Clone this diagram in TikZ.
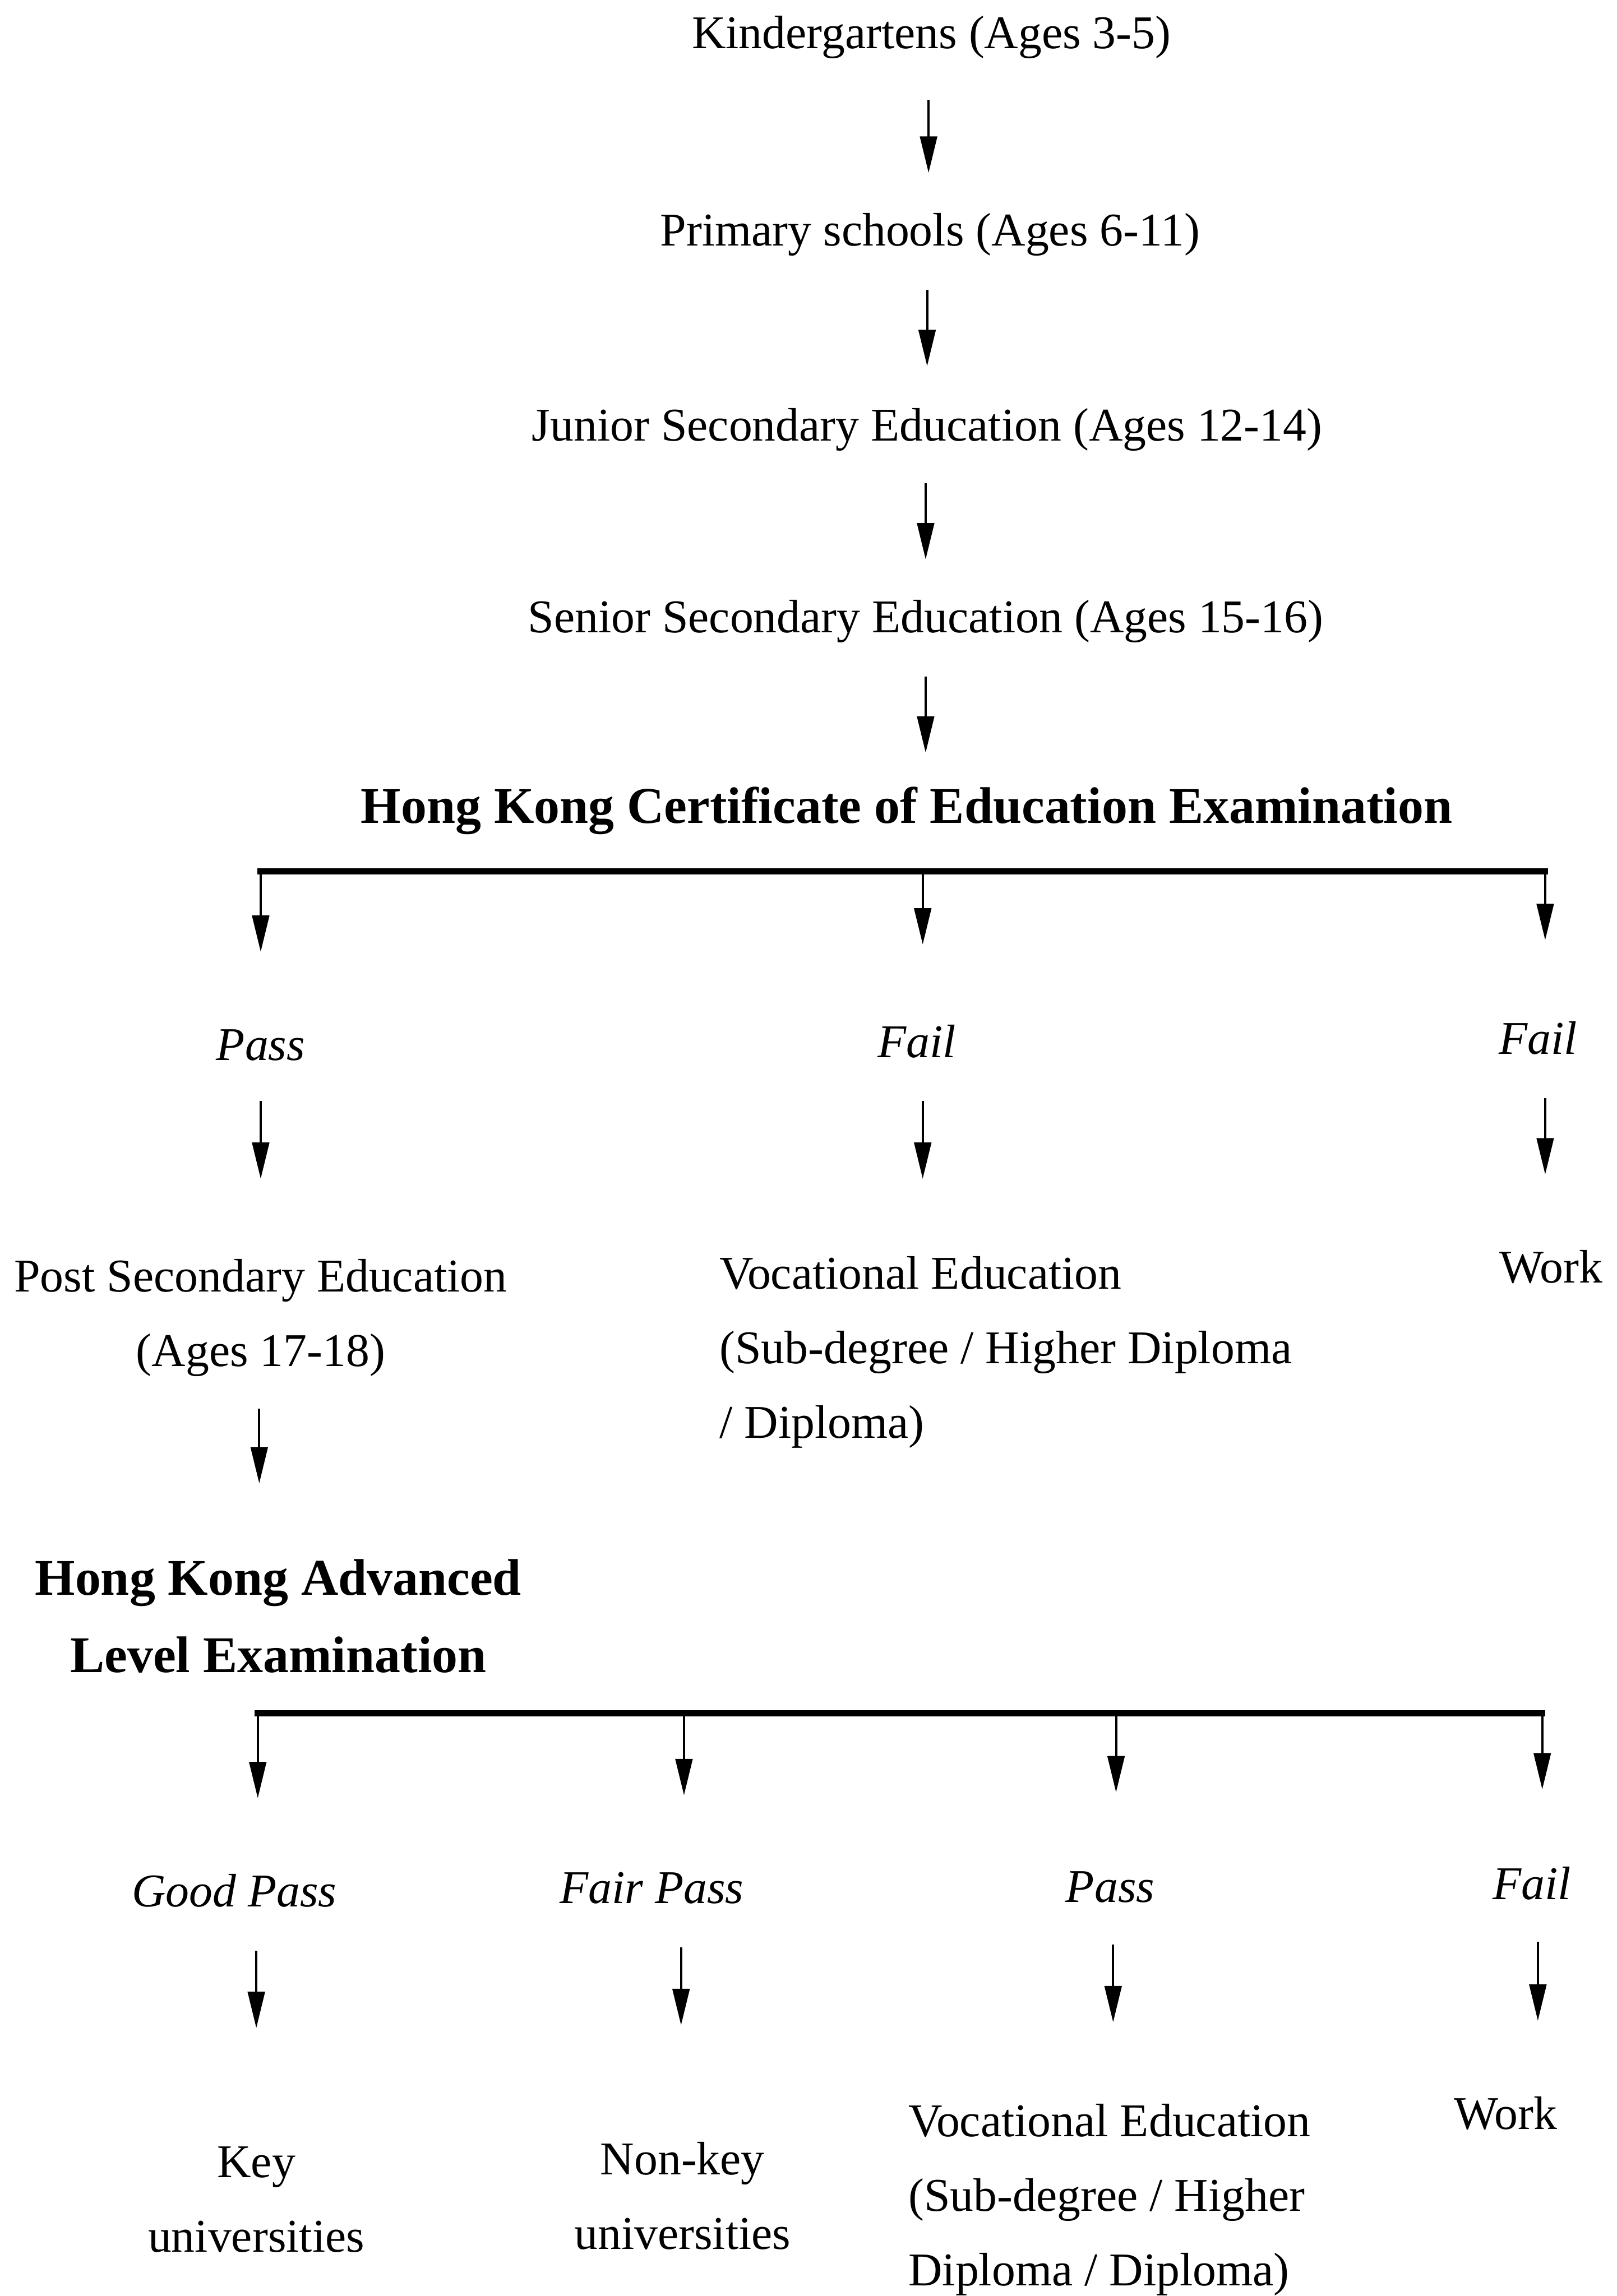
\documentclass[tikz,border=0pt]{standalone}
\usepackage{fontspec}
\setmainfont{Liberation Serif}
\usetikzlibrary{arrows.meta,calc}
\tikzset{
  txt/.style={inner sep=0pt, anchor=base, font=\fontsize{22.8}{36.2}\selectfont},
  ltxt/.style={txt, anchor=base west, align=left},
  ctxt/.style={txt, align=center},
  itxt/.style={txt, font=\fontsize{22.8}{36.2}\selectfont\itshape},
  btxt/.style={inner sep=0pt, anchor=base, align=center, font=\fontsize{25}{37.6}\selectfont\bfseries},
  arr/.style={line width=1.1pt, -{Triangle[length=0.62cm,width=0.29cm]}},
  bar/.style={line width=3pt, line cap=rect}
}
\begin{document}
\begin{tikzpicture}[x=0.025cm,y=-0.025cm]
\useasboundingbox (0,0) rectangle (1104,1568);
% main column
\node[txt] (kg) at (636,33) {Kindergartens (Ages 3-5)};
\node[txt] (ps) at (635,168) {Primary schools (Ages 6-11)};
\node[txt] (js) at (633,301) {Junior Secondary Education (Ages 12-14)};
\node[txt] (ss) at (632,432) {Senior Secondary Education (Ages 15-16)};
\node[btxt] (hkcee) at (619,562) {Hong Kong Certificate of Education Examination};
% first results
\node[itxt] (pass1) at (178,724) {Pass};
\node[itxt] (fail1) at (626,722) {Fail};
\node[itxt] (fail2) at (1050,720) {Fail};
\node[ctxt] (pse) at (178,933) {Post Secondary Education\\(Ages 17-18)};
\node[ltxt] (voc1) at (491,982) {Vocational Education\\(Sub-degree / Higher Diploma\\/ Diploma)};
\node[txt] (work1) at (1059,876) {Work};
\node[btxt] (hkale) at (190,1142) {Hong Kong Advanced\\Level Examination};
% second results
\node[itxt] (good) at (160,1302) {Good Pass};
\node[itxt] (fair) at (445,1300) {Fair Pass};
\node[itxt] (pass2) at (758,1299) {Pass};
\node[itxt] (fail3) at (1046,1297) {Fail};
\node[ctxt] (key) at (175,1538) {Key\\universities};
\node[ctxt] (nonkey) at (466,1536) {Non-key\\universities};
\node[ltxt] (voc2) at (620,1561) {Vocational Education\\(Sub-degree / Higher\\Diploma / Diploma)};
\node[txt] (work2) at (1028,1454) {Work};
% main column arrows
\draw[arr] ($(kg.base)+(-2,35)$) -- ($(ps.base)+(-1,-50)$);
\draw[arr] ($(ps.base)+(-2,30)$) -- ($(js.base)+(0,-51)$);
\draw[arr] ($(js.base)+(-1,29)$) -- ($(ss.base)+(0,-50)$);
\draw[arr] ($(ss.base)+(0,30)$) -- ($(hkcee.base)+(13,-48)$);
% first split
\coordinate (b1l) at ($(hkcee.base)+(-441,33)$);
\coordinate (b1r) at ($(hkcee.base)+(436,33)$);
\coordinate (b1m) at ($(hkcee.base)+(11,33)$);
\draw[bar] (b1l) -- (b1r);
\draw[arr] (b1l) -- ($(pass1.base)+(0,-74)$);
\draw[arr] (b1m) -- ($(fail1.base)+(4,-77)$);
\draw[arr] (b1r) -- ($(fail2.base)+(5,-78)$);
\draw[arr] ($(pass1.base)+(0,28)$) -- ($(pse.base)+(0,-128)$);
\draw[arr] ($(fail1.base)+(4,30)$) -- ($(voc1.base west)+(139,-177)$);
\draw[arr] ($(fail2.base)+(5,30)$) -- ($(work1.base)+(-4,-74)$);
\draw[arr] ($(pse.base)+(-1,29)$) -- ($(hkale.base)+(-13,-129)$);
% second split
\coordinate (b2a) at ($(hkale.base)+(-14,28)$);
\coordinate (b2b) at ($(hkale.base)+(277,28)$);
\coordinate (b2c) at ($(hkale.base)+(572,28)$);
\coordinate (b2d) at ($(hkale.base)+(863,28)$);
\draw[bar] (b2a) -- (b2d);
\draw[arr] (b2a) -- ($(good.base)+(16,-74)$);
\draw[arr] (b2b) -- ($(fair.base)+(22,-74)$);
\draw[arr] (b2c) -- ($(pass2.base)+(4,-75)$);
\draw[arr] (b2d) -- ($(fail3.base)+(7,-75)$);
\draw[arr] ($(good.base)+(15,30)$) -- ($(key.base)+(0,-153)$);
\draw[arr] ($(fair.base)+(20,30)$) -- ($(nonkey.base)+(-1,-153)$);
\draw[arr] ($(pass2.base)+(2,29)$) -- ($(voc2.base west)+(140,-180)$);
\draw[arr] ($(fail3.base)+(4,29)$) -- ($(work2.base)+(22,-74)$);
\end{tikzpicture}
\end{document}
